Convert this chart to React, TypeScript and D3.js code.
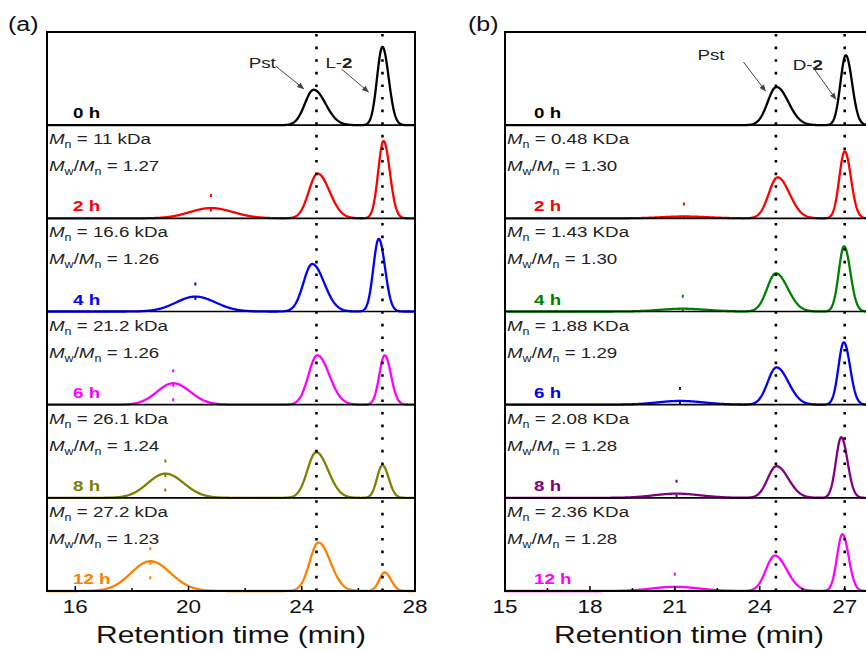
import React from 'react';
import * as d3 from 'd3';

const W = 866;
const H = 651;
const SX = 1.25; // horizontal glyph stretch of the figure's lettering
const FONT = "'Liberation Sans', Arial, Helvetica, sans-serif";

// ---------- data ----------
const timeLabels = ['0 h', '2 h', '4 h', '6 h', '8 h', '12 h'];

// Panel (a): L-2 series
const colorsA = ['#000000', '#ff0000', '#0000ff', '#ff00ff', '#808000', '#ff8000'];
const mnA = ['', '11', '16.6', '21.2', '26.1', '27.2'];
const pdiA = ['', '1.27', '1.26', '1.26', '1.24', '1.23'];
const polyCenterA = [0, 20.79, 20.24, 19.46, 19.18, 18.65];
const polyHeightA = [0, 0.11, 0.16, 0.23, 0.26, 0.32];
const polySigmaA = [0.7, 0.75, 0.68, 0.57, 0.62, 0.68];
const pstCenterA = [24.42, 24.56, 24.37, 24.55, 24.51, 24.59];
const pstHeightA = [0.38, 0.48, 0.51, 0.53, 0.49, 0.52];
const monoCenterA = [26.85, 26.89, 26.72, 26.93, 26.85, 26.93];
const monoHeightA = [0.84, 0.83, 0.78, 0.53, 0.35, 0.2];
const refLinesA = [24.52, 26.85];
const ticksA = [16, 20, 24, 28];
const minorTicksA = [18, 22, 26];

// Panel (b): D-2 series
const colorsB = ['#000000', '#ff0000', '#008000', '#0000ff', '#800080', '#ff00ff'];
const mnB = ['', '0.48', '1.43', '1.88', '2.08', '2.36'];
const pdiB = ['', '1.30', '1.30', '1.29', '1.28', '1.28'];
const polyCenterB = [0, 21.32, 21.28, 21.18, 21.06, 21.0];
const polyHeightB = [0, 0.02, 0.03, 0.04, 0.045, 0.045];
const polySigmaB = [0.8, 0.8, 0.8, 0.8, 0.8, 0.8];
const pstCenterB = [24.59, 24.63, 24.57, 24.59, 24.59, 24.53];
const pstHeightB = [0.41, 0.44, 0.41, 0.4, 0.34, 0.38];
const monoCenterB = [27.04, 27.0, 26.98, 26.97, 26.88, 26.92];
const monoHeightB = [0.75, 0.72, 0.7, 0.67, 0.65, 0.61];
const refLinesB = [24.57, 27.0];
const ticksB = [15, 18, 21, 24, 27];
const minorTicksB = [16.5, 19.5, 22.5, 25.5];

const xDomain: [number, number] = [15, 28];

// ---------- peak model ----------
function skewGauss(t: number, c: number, h: number, sl: number, sr: number) {
  const s = t < c ? sl : sr;
  return h * Math.exp(-0.5 * ((t - c) / s) ** 2);
}

type Panel = {
  id: string;
  left: number;
  colors: string[];
  mn: string[];
  pdi: string[];
  unit: string;
  polyC: number[];
  polyH: number[];
  polyS: number[];
  pstC: number[];
  pstH: number[];
  monoC: number[];
  monoH: number[];
  refs: number[];
  ticks: number[];
  minor: number[];
  mono: string;
};

const panels: Panel[] = [
  {
    id: 'a', left: 47, colors: colorsA, mn: mnA, pdi: pdiA, unit: 'kDa',
    polyC: polyCenterA, polyH: polyHeightA, polyS: polySigmaA,
    pstC: pstCenterA, pstH: pstHeightA, monoC: monoCenterA, monoH: monoHeightA,
    refs: refLinesA, ticks: ticksA, minor: minorTicksA, mono: 'L',
  },
  {
    id: 'b', left: 505, colors: colorsB, mn: mnB, pdi: pdiB, unit: 'KDa',
    polyC: polyCenterB, polyH: polyHeightB, polyS: polySigmaB,
    pstC: pstCenterB, pstH: pstHeightB, monoC: monoCenterB, monoH: monoHeightB,
    refs: refLinesB, ticks: ticksB, minor: minorTicksB, mono: 'D',
  },
];

const TOP = 32;
const BOTTOM = 591;
const PANEL_W = 368;
const N = timeLabels.length;
const STRIP = (BOTTOM - TOP) / N;

function T(props: {
  x: number; y: number; size: number; anchor?: string; weight?: string | number;
  fill?: string; children: React.ReactNode;
}) {
  const { x, y, size, anchor = 'start', weight = 'normal', fill = '#222', children } = props;
  return (
    <text
      transform={`translate(${x},${y}) scale(${SX},1)`}
      textAnchor={anchor}
      fontSize={size}
      fontWeight={weight}
      fill={fill}
      fontFamily={FONT}
    >
      {children}
    </text>
  );
}

function PanelView({ p }: { p: Panel }) {
  const x = d3.scaleLinear().domain(xDomain).range([p.left, p.left + PANEL_W]);
  const samples = d3.range(xDomain[0], xDomain[1] + 1e-9, 0.02);

  const strips = timeLabels.map((lab, i) => {
    const base = TOP + STRIP * (i + 1);
    const y = d3.scaleLinear().domain([0, 1]).range([base, base - STRIP]);
    const f = (t: number) =>
      (p.polyH[i] > 0 ? skewGauss(t, p.polyC[i], p.polyH[i], p.polyS[i], p.polyS[i] * 1.05) : 0) +
      skewGauss(t, p.pstC[i], p.pstH[i], 0.31, 0.42) +
      skewGauss(t, p.monoC[i], p.monoH[i], 0.19, 0.22);
    const line = d3.line<number>().x((t) => x(t)).y((t) => y(f(t)));
    return { lab, i, base, y, path: line(samples) as string, color: p.colors[i] };
  });

  const sepYs = d3.range(1, N).map((k) => TOP + STRIP * k);

  return (
    <g>
      {/* chromatogram traces */}
      {strips.map((s) => (
        <path key={'c' + s.i} d={s.path} fill="none" stroke={s.color} strokeWidth={2.3} strokeLinejoin="round" />
      ))}
      {/* peak-position markers of the polymer fraction */}
      {strips
        .filter((s) => p.polyH[s.i] > 0)
        .map((s) => (
          <line
            key={'m' + s.i}
            x1={x(p.polyC[s.i])}
            x2={x(p.polyC[s.i])}
            y1={s.y(p.polyH[s.i]) - 14}
            y2={s.base}
            stroke={s.color}
            strokeWidth={2}
            strokeDasharray="3,11.5"
          />
        ))}
      {/* reference retention times */}
      {p.refs.map((r) => (
        <line key={'r' + r} x1={x(r)} x2={x(r)} y1={TOP + 2} y2={BOTTOM} stroke="#000" strokeWidth={2.6} strokeDasharray="2.6,10" />
      ))}
      {/* frame and strip separators */}
      {sepYs.map((yy) => (
        <line key={'s' + yy} x1={p.left} x2={p.left + PANEL_W} y1={yy} y2={yy} stroke="#000" strokeWidth={1.6} />
      ))}
      <rect x={p.left} y={TOP} width={PANEL_W} height={BOTTOM - TOP} fill="none" stroke="#000" strokeWidth={2} />
      {/* axis ticks */}
      {p.ticks.map((t) => (
        <line key={'t' + t} x1={x(t)} x2={x(t)} y1={BOTTOM} y2={BOTTOM - 5} stroke="#000" strokeWidth={1.5} />
      ))}
      {p.minor.map((t) => (
        <line key={'mt' + t} x1={x(t)} x2={x(t)} y1={BOTTOM} y2={BOTTOM - 3} stroke="#000" strokeWidth={1.5} />
      ))}
      {p.ticks.map((t) => (
        <T key={'tl' + t} x={x(t)} y={613} size={18} anchor="middle" fill="#111">
          {String(t)}
        </T>
      ))}
      <T x={p.left + PANEL_W / 2} y={643} size={24} anchor="middle" fill="#111">
        Retention time (min)
      </T>
      {/* strip labels */}
      {strips.map((s) => (
        <T key={'l' + s.i} x={p.left + 26 + (p.id === 'b' ? 3 : 0)} y={s.base - 7} size={15} weight="bold" fill={s.color}>
          {s.lab}
        </T>
      ))}
      {strips
        .filter((s) => p.mn[s.i] !== '')
        .map((s) => {
          const top = s.base - STRIP;
          return (
            <g key={'t' + s.i}>
              <T x={p.left + 2} y={top + 19} size={15}>
                <tspan fontStyle="italic">M</tspan>
                <tspan fontSize={10} dy={4}>n</tspan>
                <tspan dy={-4}>{` = ${p.mn[s.i]} ${p.unit}`}</tspan>
              </T>
              <T x={p.left + 2} y={top + 46} size={15}>
                <tspan fontStyle="italic">M</tspan>
                <tspan fontSize={10} dy={4}>w</tspan>
                <tspan dy={-4}>/</tspan>
                <tspan fontStyle="italic">M</tspan>
                <tspan fontSize={10} dy={4}>n</tspan>
                <tspan dy={-4}>{` = ${p.pdi[s.i]}`}</tspan>
              </T>
            </g>
          );
        })}
      {/* peak annotations in the first strip */}
      {(() => {
        const s = strips[0];
        const pstTop = s.y(p.pstH[0]);
        const monoTop = s.y(p.monoH[0]);
        const xp = x(p.pstC[0]);
        const xm = x(p.monoC[0]);
        const isA = p.id === 'a';
        const pstLabel = isA ? { x: xp - 65, y: 68 } : { x: xp - 79, y: 60 };
        const pstArrow = isA
          ? { x1: xp - 38, y1: 66, x2: xp - 10, y2: pstTop - 1 }
          : { x1: xp - 33, y1: 62, x2: xp - 11, y2: pstTop + 4 };
        const monoLabel = isA ? { x: xm - 57, y: 68 } : { x: xm - 53, y: 70 };
        const monoArrow = isA
          ? { x1: xm - 41, y1: 69, x2: xm - 14, y2: monoTop + 45 }
          : { x1: xm - 33, y1: 67, x2: xm - 10, y2: monoTop + 44 };
        return (
          <g>
            <T x={pstLabel.x} y={pstLabel.y} size={15}>Pst</T>
            <T x={monoLabel.x} y={monoLabel.y} size={15}>
              {p.mono}-<tspan fontWeight="bold">2</tspan>
            </T>
            <line {...pstArrow} stroke="#444" strokeWidth={1} markerEnd="url(#arr)" />
            <line {...monoArrow} stroke="#444" strokeWidth={1} markerEnd="url(#arr)" />
          </g>
        );
      })()}
      <T x={p.left - 39 + (p.id === 'b' ? 2 : 0)} y={31} size={20} fill="#111">
        {`(${p.id})`}
      </T>
    </g>
  );
}

export default function App() {
  return (
    <svg
      width={W}
      height={H}
      viewBox={`0 0 ${W} ${H}`}
      style={{ position: 'absolute', left: 0, top: 0, background: '#fff' }}
    >
      <defs>
        <marker id="arr" viewBox="0 0 10 10" refX="9" refY="5" markerWidth="7" markerHeight="7" orient="auto">
          <path d="M0,1 L10,5 L0,9 z" fill="#444" />
        </marker>
      </defs>
      <rect x={0} y={0} width={W} height={H} fill="#fff" />
      {panels.map((p) => (
        <PanelView key={p.id} p={p} />
      ))}
    </svg>
  );
}
